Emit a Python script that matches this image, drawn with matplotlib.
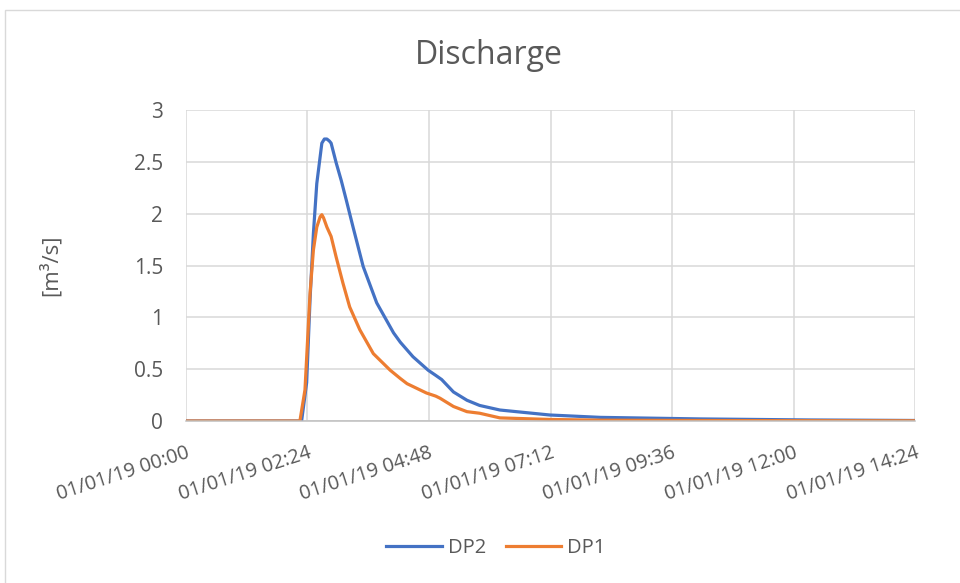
import matplotlib
matplotlib.use("Agg")
import matplotlib.pyplot as plt
import matplotlib.dates as mdates
import numpy as np
from datetime import datetime, timedelta

plt.rcParams['font.family'] = ['Open Sans', 'DejaVu Sans']

# time in minutes after 01/01/19 00:00
dp2_minutes = [0, 137, 143, 147, 151, 155, 161, 164, 167, 170, 172, 178, 184, 190, 198, 210, 226, 246, 254,
               269, 287, 296, 303, 317, 333, 348, 372, 431, 491, 609, 740, 864]
dp2_values = [0, 0, 0.37, 1.17, 1.81, 2.29, 2.68, 2.72, 2.72, 2.70, 2.68, 2.49, 2.32, 2.13, 1.87, 1.49, 1.14,
              0.85, 0.76, 0.62, 0.49, 0.44, 0.40, 0.28, 0.20, 0.15, 0.106, 0.058, 0.035, 0.02, 0.01, 0.005]

dp1_minutes = [0, 135, 141, 147, 151, 155, 159, 161, 163, 167, 172, 178, 186, 194, 206, 222, 242, 254, 262,
               285, 296, 301, 317, 333, 348, 372, 431, 491, 609, 740, 864]
dp1_values = [0, 0, 0.30, 1.23, 1.65, 1.87, 1.97, 1.99, 1.96, 1.87, 1.78, 1.58, 1.33, 1.10, 0.88, 0.65, 0.49,
              0.41, 0.36, 0.27, 0.24, 0.22, 0.14, 0.09, 0.075, 0.03, 0.015, 0.008, 0.005, 0.003, 0.002]

start = datetime(2019, 1, 1, 0, 0)
tick_minutes = [0, 144, 288, 432, 576, 720, 864]
y_ticks = [0, 0.5, 1, 1.5, 2, 2.5, 3]
y_tick_labels = ['0', '0.5', '1', '1.5', '2', '2.5', '3']

def to_dt(ms):
    return [start + timedelta(minutes=m) for m in ms]

fig = plt.figure(figsize=(9.6, 5.83), dpi=100)
ax = fig.add_axes([186/960, 1-421/583, (915-186)/960, (421-110)/583])

blue = '#4472C4'
orange = '#ED7D31'
text_col = '#595959'

ax.plot(to_dt(dp2_minutes), dp2_values, color=blue, lw=2.3, label='DP2', solid_joinstyle='round')
ax.plot(to_dt(dp1_minutes), dp1_values, color=orange, lw=2.3, label='DP1', solid_joinstyle='round')

ax.set_xlim(to_dt([0])[0], to_dt([864])[0])
ax.set_ylim(0, 3)
ax.set_xticks(to_dt(tick_minutes))
ax.xaxis.set_major_formatter(mdates.DateFormatter('%d/%m/%y %H:%M'))
ax.set_yticks(y_ticks)
ax.set_yticklabels(y_tick_labels)

ax.grid(True, color='#d9d9d9', lw=1.1)
ax.set_axisbelow(True)
for s in ['top', 'right', 'left']:
    ax.spines[s].set_visible(False)
ax.spines['bottom'].set_color('#bfbfbf')
ax.spines['bottom'].set_linewidth(1.1)
ax.tick_params(axis='y', length=0, colors=text_col, labelsize=15, pad=16.5)
ax.tick_params(axis='x', length=0, colors=text_col, labelsize=14.3, pad=16)
for lab in ax.get_xticklabels():
    lab.set_rotation(18)
    lab.set_ha('right')
    lab.set_rotation_mode('anchor')

ax.set_ylabel('[m³/s]', color=text_col, fontsize=16)
ax.yaxis.set_label_coords((62 - 186) / 729, 0.5)
fig.text(489/960, 1-55/583, 'Discharge', ha='center', va='center', fontsize=23, color=text_col)

leg = fig.legend(handles=ax.get_lines(), loc='center', bbox_to_anchor=(496/960, 1-548/583), ncol=2,
                 frameon=False, fontsize=14.5, handlelength=2.75, columnspacing=1.0, handletextpad=0.3)
for t in leg.get_texts():
    t.set_color(text_col)

# chart border
fig.patches.append(plt.Rectangle((5/960, -0.01), 1.1, 1 - 10/583 + 0.01, transform=fig.transFigure,
                                 fill=False, edgecolor='#d9d9d9', lw=1.0))

fig.savefig('out.png', dpi=100)
